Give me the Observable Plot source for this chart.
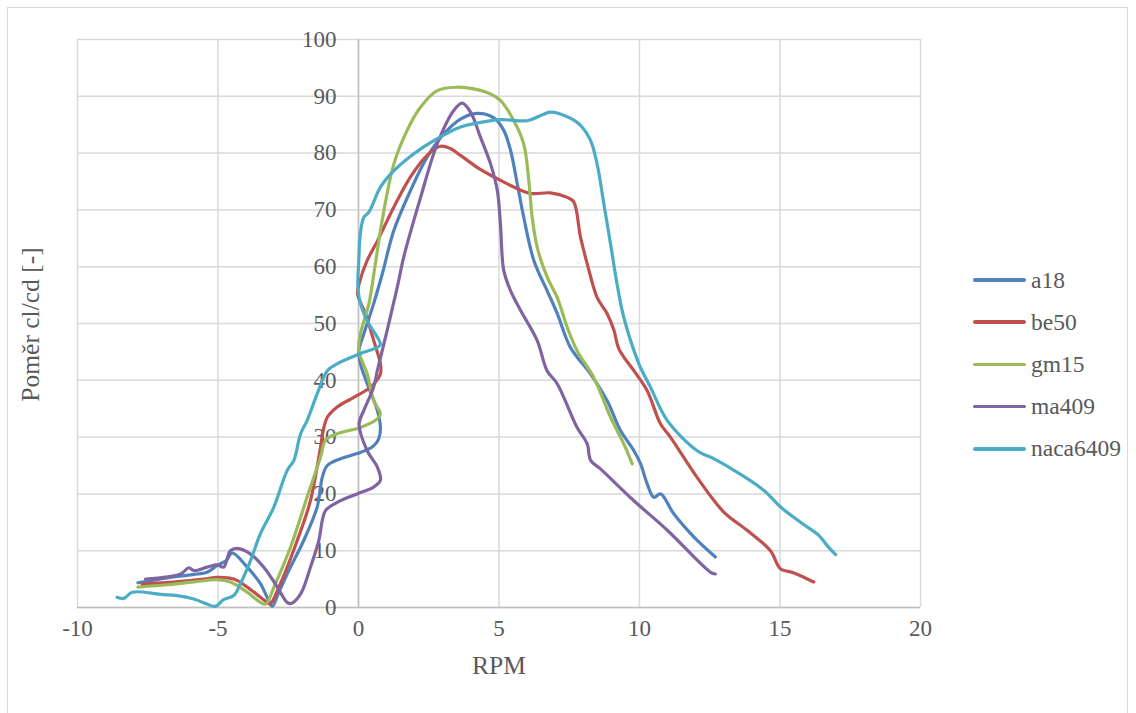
<!DOCTYPE html>
<html>
<head>
<meta charset="utf-8">
<script src="https://cdn.jsdelivr.net/npm/d3@7"></script>
<script src="https://cdn.jsdelivr.net/npm/@observablehq/plot@0.6"></script>
<style>
  html, body { margin: 0; padding: 0; background: #fff; overflow: hidden; }
  #wrap { position: relative; width: 1136px; height: 713px; overflow: hidden; font-family: 'Liberation Serif', Tinos, 'Times New Roman', 'DejaVu Serif', serif; color: #595959; }
  #frame { position: absolute; left: 7px; top: 7px; width: 1121px; height: 730px; border: 1.5px solid #D9D9D9; box-sizing: border-box; }
  #chart { position: absolute; left: 0; top: 0; }
  #chart svg, #chart text { font-family: 'Liberation Serif', Tinos, 'Times New Roman', 'DejaVu Serif', serif; }
  .leg { position: absolute; left: 973px; height: 30px; display: flex; align-items: center; font-size: 23.5px; }
  .leg span.sw { display: inline-block; width: 53px; height: 3.5px; border-radius: 2px; margin-right: 5px; }
</style>
</head>
<body>
<div id="wrap">
  <div id="frame"></div>
  <div id="chart"></div>
  <div id="legend"></div>
</div>
<script>
// Tick values
const xTicks = [-10, -5, 0, 5, 10, 15, 20];
const yTicks = [0, 10, 20, 30, 40, 50, 60, 70, 80, 90, 100];

// Series names and colours
const seriesNames = ["a18", "be50", "gm15", "ma409", "naca6409"];
const seriesColors = ["#4F81BD", "#C0504D", "#9BBB59", "#8064A2", "#4BACC6"];

// [RPM, Poměr cl/cd] points, in drawing order
const a18 = [[-7.85,4.35],[-6.8,5.2],[-5.9,5.8],[-5.39,6.2],[-5.03,7.4],[-4.7,8.3],[-4.5,9.6],[-3.96,7.1],[-3.49,4.2],[-3.25,1.8],[-3.07,0.2],[-2.85,2.5],[-2.54,5.9],[-1.95,11.8],[-1.47,17.7],[-1.29,22.9],[-1.11,25],[-0.64,26.2],[-0.05,27.1],[0.5,28.3],[0.72,29.7],[0.78,31.7],[0.67,34.7],[0.31,39.4],[0.07,42.9],[0.01,45.2],[0.19,48.2],[0.54,53.5],[0.85,58.8],[1.26,66.4],[1.85,73.4],[2.44,79.3],[3.04,83.4],[3.63,86],[4.22,87],[4.82,86.2],[5.17,84],[5.41,80.5],[5.65,74.6],[5.88,68.7],[6.24,61.1],[6.71,55.8],[7.07,51.8],[7.54,45.8],[8.26,41.1],[8.85,36.4],[9.32,31.2],[9.8,27.6],[10.04,25.3],[10.27,21.8],[10.51,19.4],[10.75,20],[11.22,16.5],[11.94,12.4],[12.7,8.9]];
const be50 = [[-7.7,4.1],[-6.5,4.5],[-5.5,5.0],[-5.03,5.3],[-4.44,5.0],[-3.96,3.6],[-3.49,1.8],[-3.25,0.9],[-3.15,0.6],[-2.78,4.2],[-2.18,11.8],[-1.71,18.8],[-1.41,26.5],[-1.23,31.7],[-1.11,33.5],[-0.76,35.3],[-0.17,37],[0.43,38.8],[0.78,41.1],[0.78,42.9],[0.54,47],[0.25,51.7],[-0.03,55.2],[0.05,57.5],[0.31,61.1],[0.67,64.5],[1.26,70.5],[1.85,75.8],[2.44,79.6],[2.92,81.2],[3.27,80.8],[3.63,79.6],[4.22,77.5],[4.82,75.8],[5.41,74.3],[6.12,72.9],[6.83,73],[7.43,72.2],[7.66,71.4],[7.9,65.2],[8.14,60.5],[8.49,54.6],[8.85,51.7],[9.09,48.8],[9.27,45.5],[9.8,41.7],[10.27,38.2],[10.75,32.3],[11.1,30],[12.05,22.9],[13,16.8],[13.83,13.6],[14.66,10],[15.02,6.8],[15.43,6.2],[15.73,5.6],[16.2,4.5]];
const gm15 = [[-7.85,3.6],[-6.8,4.0],[-5.86,4.5],[-5.03,4.9],[-4.56,4.5],[-3.96,2.7],[-3.49,0.9],[-3.3,0.6],[-3.01,3.6],[-2.42,10.6],[-1.83,19.4],[-1.35,26.5],[-1.17,29.5],[-0.76,30.6],[0.07,31.7],[0.67,33.2],[0.78,34.1],[0.54,36.4],[0.31,41.1],[0.01,45.2],[0.07,48.2],[0.37,53.5],[0.6,60.5],[0.84,68.1],[1.26,78.1],[1.73,84],[2.21,88.1],[2.8,91],[3.51,91.6],[4.1,91.3],[4.7,90.4],[5.05,89.3],[5.53,85.7],[5.88,81.6],[6.06,75.2],[6.18,68.7],[6.36,63.4],[6.71,58.2],[7.07,54.6],[7.43,49.3],[7.78,45.2],[8.37,40.5],[8.97,33.5],[9.44,28.8],[9.74,25.3]];
const ma409 = [[-7.58,5.0],[-6.33,5.9],[-6.04,7.0],[-5.86,6.5],[-5.39,7.1],[-5.03,7.5],[-4.8,7.1],[-4.56,10.0],[-4.32,10.4],[-3.84,9.4],[-3.37,7.1],[-2.89,3.6],[-2.54,0.9],[-2.4,0.7],[-2.06,2.4],[-1.71,7.1],[-1.41,11.8],[-1.29,15.3],[-1.17,17.1],[-0.76,18.5],[-0.05,20],[0.54,21.2],[0.78,22.4],[0.67,24.7],[0.31,27.6],[0.02,32.3],[0.19,34.7],[0.54,38.8],[0.67,41.7],[1.02,48.8],[1.38,56.4],[1.61,61.7],[2.21,72.2],[2.8,81.6],[3.39,87.5],[3.69,88.8],[3.99,87.2],[4.34,82.8],[4.7,78.1],[4.94,73.4],[5.05,67.6],[5.17,59.3],[5.41,55.8],[5.77,52.3],[6.36,47],[6.71,41.7],[7.07,39.4],[7.78,31.7],[8.14,28.8],[8.26,25.9],[8.61,24.4],[9.8,18.8],[10.99,13.6],[12.53,6.2],[12.7,5.9]];
const naca6409 = [[-8.59,1.8],[-8.35,1.6],[-8.05,2.7],[-7.05,2.3],[-6.45,2.1],[-5.86,1.5],[-5.39,0.6],[-5.09,0.2],[-4.8,1.4],[-4.44,2.1],[-4.2,4.2],[-3.84,8.3],[-3.49,13],[-3.01,17.7],[-2.54,24.1],[-2.3,25.9],[-2.06,30.6],[-1.83,32.9],[-1.47,37.6],[-1.11,41.7],[-0.76,42.9],[0.07,44.7],[0.67,45.8],[0.78,46.3],[0.67,47.6],[0.37,49.9],[0.07,53.5],[-0.02,56.4],[0.01,61.1],[0.07,66],[0.19,68.7],[0.37,69.6],[0.78,74],[1.26,76.9],[1.97,79.9],[2.68,82.2],[3.63,84.6],[4.22,85.3],[5.05,85.9],[6.0,85.7],[6.48,86.6],[6.83,87.2],[7.43,86.4],[7.9,84.9],[8.26,82.2],[8.49,78.1],[8.73,71.1],[8.97,64],[9.2,57],[9.44,51.1],[9.98,42.9],[10.39,38.8],[10.99,32.9],[12.05,27.6],[12.64,26.2],[13.48,23.8],[14.43,20.6],[15.02,17.7],[15.73,15],[16.38,12.7],[16.68,10.9],[16.98,9.3]];

const seriesData = [a18, be50, gm15, ma409, naca6409];
const rows = [];
seriesData.forEach((pts, i) => pts.forEach(([x, y], j) => rows.push({series: seriesNames[i], rpm: x, ratio: y, order: j})));

const FONT = "'Liberation Serif', Tinos, 'Times New Roman', 'DejaVu Serif', serif";

const chart = Plot.plot({
  width: 1136,
  height: 713,
  marginLeft: 77,
  marginRight: 216,
  marginTop: 39,
  marginBottom: 106,
  style: {fontFamily: FONT, fontSize: "23px", color: "#595959", background: "transparent", overflow: "visible"},
  x: {domain: [-10, 20], axis: null},
  y: {domain: [0, 100], axis: null},
  color: {domain: seriesNames, range: seriesColors},
  marks: [
    Plot.gridX(xTicks, {stroke: "#D9D9D9", strokeOpacity: 1, strokeWidth: 1.5}),
    Plot.gridY(yTicks, {stroke: "#D9D9D9", strokeOpacity: 1, strokeWidth: 1.5}),
    Plot.ruleX([0], {stroke: "#BFBFBF", strokeWidth: 1.5}),
    Plot.ruleY([0], {stroke: "#BFBFBF", strokeWidth: 1.5}),
    Plot.text(yTicks, {x: () => 0, y: d => d, text: d => String(d), textAnchor: "end", dx: -22, fill: "#595959", fontSize: 23, fontFamily: FONT}),
    Plot.text(xTicks, {x: d => d, frameAnchor: "bottom", dy: 28, text: d => String(d), fill: "#595959", fontSize: 23, fontFamily: FONT}),
    Plot.line(rows, {x: "rpm", y: "ratio", z: "series", stroke: "series", strokeWidth: 3.2, curve: "catmull-rom", strokeLinejoin: "round", strokeLinecap: "round"}),
    Plot.text(["RPM"], {frameAnchor: "bottom", dy: 66, fill: "#595959", fontSize: 25.5, fontFamily: FONT}),
    Plot.text(["Poměr cl/cd [-]"], {frameAnchor: "left", textAnchor: "middle", dx: -47, dy: 1, rotate: -90, fill: "#595959", fontSize: 25.5, fontFamily: FONT})
  ]
});
document.getElementById("chart").appendChild(chart);

// Legend
const legend = document.getElementById("legend");
seriesNames.forEach((name, i) => {
  const item = document.createElement("div");
  item.className = "leg";
  item.style.top = (265 + i * 42.2) + "px";
  const sw = document.createElement("span");
  sw.className = "sw";
  sw.style.background = seriesColors[i];
  item.appendChild(sw);
  item.appendChild(document.createTextNode(name));
  legend.appendChild(item);
});
</script>
</body>
</html>
